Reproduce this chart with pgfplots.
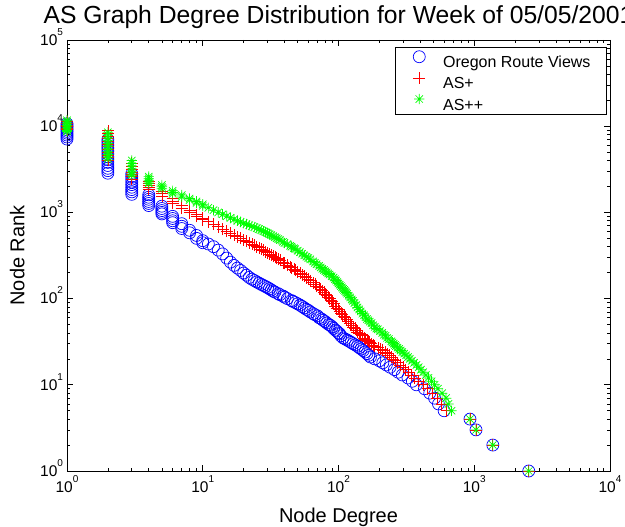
\documentclass[border=0pt]{standalone}
\usepackage{pgfplots}
\pgfplotsset{compat=1.18}
\usepackage{fontspec}
\setmainfont{Liberation Sans}
\newcommand{\tl}[1]{10\smash{\raisebox{0.645em}{\fontsize{10bp}{10bp}\selectfont #1}}}
\definecolor{mblue}{RGB}{0,0,255}
\definecolor{mred}{RGB}{255,0,0}
\definecolor{mgreen}{RGB}{0,255,0}
\pgfdeclareplotmark{mstar}{%
 \pgfpathmoveto{\pgfqpoint{-\pgfplotmarksize}{0pt}}\pgfpathlineto{\pgfqpoint{\pgfplotmarksize}{0pt}}%
 \pgfpathmoveto{\pgfqpoint{0pt}{-\pgfplotmarksize}}\pgfpathlineto{\pgfqpoint{0pt}{\pgfplotmarksize}}%
 \pgfpathmoveto{\pgfqpoint{-0.707\pgfplotmarksize}{-0.707\pgfplotmarksize}}\pgfpathlineto{\pgfqpoint{0.707\pgfplotmarksize}{0.707\pgfplotmarksize}}%
 \pgfpathmoveto{\pgfqpoint{-0.707\pgfplotmarksize}{0.707\pgfplotmarksize}}\pgfpathlineto{\pgfqpoint{0.707\pgfplotmarksize}{-0.707\pgfplotmarksize}}%
 \pgfusepathqstroke}
\pgfdeclareplotmark{mplus}{%
 \pgfpathmoveto{\pgfqpoint{-\pgfplotmarksize}{0pt}}\pgfpathlineto{\pgfqpoint{\pgfplotmarksize}{0pt}}%
 \pgfpathmoveto{\pgfqpoint{0pt}{-\pgfplotmarksize}}\pgfpathlineto{\pgfqpoint{0pt}{\pgfplotmarksize}}%
 \pgfusepathqstroke}
\begin{document}
\begin{tikzpicture}
\path[use as bounding box] (0,0) rectangle (625bp,527bp);
\begin{axis}[
 at={(67bp,56bp)}, anchor=south west,
 scale only axis, width=543bp, height=431bp,
 xmode=log, ymode=log, xmin=1, xmax=10000, ymin=1, ymax=100000,
 xtick={1,10,100,1000,10000}, xticklabels={\tl{0},\tl{1},\tl{2},\tl{3},\tl{4}},
 ytick={1,10,100,1000,10000,100000}, yticklabels={\tl{0},\tl{1},\tl{2},\tl{3},\tl{4},\tl{5}},
 minor xtick={2,3,4,5,6,7,8,9,20,30,40,50,60,70,80,90,200,300,400,500,600,700,800,900,2000,3000,4000,5000,6000,7000,8000,9000},
 minor ytick={2,3,4,5,6,7,8,9,20,30,40,50,60,70,80,90,200,300,400,500,600,700,800,900,2000,3000,4000,5000,6000,7000,8000,9000,20000,30000,40000,50000,60000,70000,80000,90000},
 tick align=inside, major tick length=6bp, minor tick length=3.5bp,
 tick style={black, line width=0.6bp},
 axis line style={line width=0.8bp},
 tick label style={font=\fontsize{15.5bp}{18bp}\selectfont},
 xticklabel style={yshift=-7bp},
 yticklabel style={xshift=-0.5bp},
 clip=false,
 title={AS Graph Degree Distribution for Week of 05/05/2001},
 title style={at={(0.5,1)}, anchor=base, yshift=10.7bp, font=\fontsize{24.7bp}{28bp}\selectfont},
 xlabel={Node Degree}, ylabel={Node Rank},
 xlabel style={at={(0.5,0)}, anchor=base, yshift=-51bp, font=\fontsize{20bp}{24bp}\selectfont},
 ylabel style={at={(0,0.5)}, anchor=base, yshift=42.5bp, font=\fontsize{20bp}{24bp}\selectfont},
 legend style={at={(0.9945,0.9838)}, anchor=north east, draw=black, line width=0.8bp,
   font=\fontsize{16bp}{19bp}\selectfont, inner xsep=2bp, inner ysep=2bp,
   row sep=0.5bp, column sep=0pt,
   nodes={inner ysep=0pt, inner xsep=5.5bp, text height=12.8bp, text depth=2.2bp},
   cells={anchor=west}},
 legend image code/.code={\draw[#1] plot coordinates {(22bp,5.8bp)}; \path (0bp,-0.2bp) (40bp,12.8bp);},
]
\addplot[only marks, mark=o, mark size=6bp, color=mblue, line width=0.7bp] coordinates {
(1,10700)(1,10300)(1,9900)(1,9500)(1,9100)(1,8700)(1,8300)(1,7900)(1,7500)(1,7100)
(2,7000)(2,6500)(2,6000)(2,5600)(2,5200)(2,4800)(2,4400)(2,4100)(2,3800)(2,3500)(2,3250)(2,3050)(2,2850)
(3,2800)(3,2600)(3,2420)(3,2250)(3,2100)(3,1960)(3,1840)(3,1730)(3,1620)
(4,1600)(4,1500)(4,1420)(4,1340)(4,1270)(4,1200)
(5,1180)(5,1110)(5,1050)(5,1000)(5,960)
(6,900)(6,850)(6,800)(6,760)
(7,740)(7,690)(7,650)
(8,620)(8,580)
(9,540)(9,500)
(10,470)(10,445)
(11,430)(12,400)(13,365)(14,330)(15,295)(16,265)(17,243)(18,226)(19,212)(20,198)
(21,187)(22,176)(23,168)(24,162)(25,156)(26,151)(27,146)(28,142)(29,138)(30,134)(31,130)(32,126)(33,122)(34,119)(36,114)(37,111)(39,107)
(40,104)(42,100)(45,95)(46,93)(48,90)(50,87)(52,84)(54,81)(56,78)(58,75)(60,73)(62,70)(65,67)(67,65)(70,63)(72,60)(75,58)(77,56)(80,54)(82,52)(85,50)
(87,49)(90,47)(92,45)(95,43)(97,42)(100,40)(102,39)(104,37)
(108,35)(112,34)(116,33)(120,32)(124,31)(128,30)(133,29)(138,28)(142,27)(147,26)
(152,25)(157,24)(162,23)(167,22)(172,21)(185,20)(200,19)(212,18)(225,17)(240,16)
(258,15)(275,14)(295,13)(325,12)(350,11)(375,10)(430,9)(470,8)(510,7)(545,6)(600,5)
(930,4)(1030,3)(1370,2)(2520,1)
};
\addlegendentry{\makebox[156bp][l]{Oregon Route Views}}
\addplot[only marks, mark=mplus, mark size=6bp, color=mred, line width=0.7bp] coordinates {
(1,11300)(1,10800)(1,10300)(1,9900)(1,9500)(1,9100)
(2,8900)(2,8300)(2,7700)(2,7200)(2,6700)(2,6200)(2,5800)(2,5400)(2,5000)(2,4650)(2,4300)(2,4000)
(3,3700)(3,3450)(3,3200)(3,2950)(3,2750)(3,2600)(3,2450)
(4,2300)(4,2180)(4,2060)(4,1950)(4,1850)
(5,1750)(5,1650)(5,1550)
(6,1450)(6,1350)(6,1270)
(7,1200)(7,1120)
(8,1050)(8,990)
(9,940)(9,900)
(10,860)(10,820)
(11,780)(12,730)(13,680)(14,640)(15,605)(16,575)(17,548)(18,522)(19,500)(20,480)
(21,462)(22,445)(23,430)(24,415)(25,402)(26,390)(27,376)(28,362)(29,351)(30,340)(31,330)(32,320)(33,310)(34,300)(35,292)(36,285)(37,277)(39,262)
(40,256)(42,245)(44,234)(45,228)(47,218)(48,212)(50,205)(52,198)(54,190)(56,183)(58,175)(60,168)(62,162)(65,153)(67,146)(69,140)(72,134)(74,128)(76,123)(78,118)
(80,113)(82,108)(84,104)(86,100)(88,96)(90,92)(92,87)(95,82)(97,78)(100,75)(102,72)(105,68)(107,65)(110,62)(112,60)(115,57)(118,54)(122,51)(125,49)(128,47)
(132,45)(135,43)(138,41)(142,40)(146,38)(150,37)(154,35)(158,34)(162,33)(166,32)(170,31)(175,30)(180,29)(185,28)(195,27)
(205,26)(212,25)(220,24)(228,23)(236,22)(245,21)(252,20)(262,19)(272,18)(285,17)
(298,16)(312,15)(328,14)(345,13)(365,12)(390,11)(420,10)(455,9)(495,8)(535,7)
(575,6)(625,5)(930,4)(1030,3)(1370,2)(2520,1)
};
\addlegendentry{AS+}
\addplot[only marks, mark=mstar, mark size=5.2bp, color=mgreen, line width=0.7bp] coordinates {
(1,11700)(1,11200)(1,10700)(1,10200)(1,9700)(1,9300)(1,8900)(1,8700)
(2,8500)(2,7900)(2,7300)(2,6800)(2,6300)(2,5850)(2,5450)(2,5050)(2,4700)(2,4400)(2,4150)
(3,4000)(3,3700)(3,3450)(3,3200)(3,2950)(3,2800)(3,2700)
(4,2600)(4,2480)(4,2360)(4,2250)(4,2170)
(5,2080)(5,1980)(5,1880)
(6,1780)(6,1700)(6,1640)
(7,1590)(7,1510)
(8,1450)(8,1390)
(9,1340)(9,1290)
(10,1240)(10,1190)
(11,1130)(12,1060)(13,1000)(14,950)(15,905)(16,865)(17,830)(18,800)(19,775)(20,750)
(21,730)(22,710)(23,692)(24,675)(25,657)(26,640)(27,622)(28,605)(29,590)(30,575)(31,560)(32,545)(33,530)(34,515)(35,502)(36,490)(37,478)(39,455)(40,442)(42,428)
(44,410)(45,400)(47,384)(48,375)(50,360)(52,345)(54,331)(56,318)(58,306)(60,295)(62,285)(65,270)(67,260)(69,250)(72,240)(74,230)(76,222)(78,215)(80,208)(82,202)
(84,196)(86,190)(89,182)(92,175)(94,168)(96,162)(98,156)(100,150)(102,145)(104,140)(106,135)(108,130)(110,126)(112,122)(114,118)(116,114)(119,108)(122,103)
(125,98)(128,94)(131,89)(135,84)(138,79)(142,75)(146,71)(150,67)(154,64)(158,61)(162,58)(166,56)(170,54)(175,52)(180,49)(185,47)(190,45)(195,44)(202,42)(210,40)
(216,38)(222,37)(228,35)(235,34)
(245,32)(250,31)(255,30)(260,29)(265,28)(272,27)(280,26)(287,25)(295,24)(305,23)
(315,22)(325,21)(335,20)(347,19)(360,18)(375,17)(390,16)(405,15)(420,14)(440,13)
(460,12)(485,11)(510,10)(540,9)(580,8)(620,7)(645,6)(680,5)
(930,4)(1030,3)(1370,2)(2520,1)
};
\addlegendentry{AS++}
\end{axis}
\end{tikzpicture}
\end{document}
